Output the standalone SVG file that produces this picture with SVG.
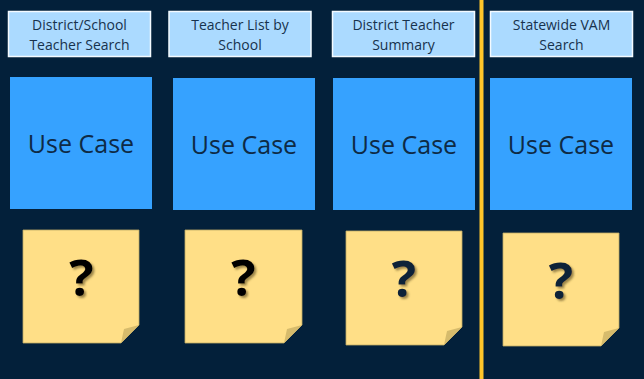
<svg xmlns="http://www.w3.org/2000/svg" width="644" height="379" viewBox="0 0 644 379">
<defs>
<style>
.hdr rect{fill:#ABDAFF;stroke:#F4FAFF;stroke-width:1.5}
.hdr text{font-family:"Open Sans","Liberation Sans",sans-serif;font-size:14px;fill:#17324D;text-anchor:middle}
.uc rect{fill:#36A2FF}
.uc text{font-family:"Open Sans","Liberation Sans",sans-serif;font-size:25px;fill:#0E2A45;text-anchor:middle}
.note .paper{fill:#FFDF87;stroke:#BFA964;stroke-width:0.8}
.note .fold{fill:#D6BB6C}
.note text{font-family:"Open Sans","Liberation Sans",sans-serif;font-weight:bold;font-size:51px;text-anchor:middle;filter:url(#sh)}
</style>
<filter id="sh" x="-50%" y="-50%" width="200%" height="200%">
<feGaussianBlur in="SourceAlpha" stdDeviation="1.2"/>
<feOffset dx="2" dy="2" result="b"/>
<feFlood flood-color="#5a4a20" flood-opacity="0.6"/>
<feComposite in2="b" operator="in"/>
<feMerge><feMergeNode/><feMergeNode in="SourceGraphic"/></feMerge>
</filter>
</defs>
<rect width="644" height="379" fill="#03203A"/>
<rect id="divider" x="479.5" y="0" width="4" height="379" fill="#FFC62A"/>
<g id="connectors"/>
<g id="h1" class="hdr"><rect x="8.5" y="11.5" width="142" height="45"/><text x="79.5" y="30">District/School</text><text x="79.5" y="50">Teacher Search</text></g>
<g id="h2" class="hdr"><rect x="169" y="11.5" width="142" height="45"/><text x="240" y="30">Teacher List by</text><text x="240" y="50">School</text></g>
<g id="h3" class="hdr"><rect x="332.5" y="11.5" width="142" height="45"/><text x="403.5" y="30">District Teacher</text><text x="403.5" y="50">Summary</text></g>
<g id="h4" class="hdr"><rect x="490.5" y="11.5" width="142" height="45"/><text x="561.5" y="30">Statewide VAM</text><text x="561.5" y="50">Search</text></g>
<g id="u1" class="uc"><rect x="10" y="77" width="142" height="132"/><text x="81" y="153">Use Case</text></g>
<g id="u2" class="uc"><rect x="173" y="78" width="142" height="132"/><text x="244" y="154">Use Case</text></g>
<g id="u3" class="uc"><rect x="333" y="78" width="142" height="132"/><text x="404" y="154">Use Case</text></g>
<g id="u4" class="uc"><rect x="490" y="78" width="142" height="132"/><text x="561" y="154">Use Case</text></g>
<g id="n1" class="note"><path class="paper" d="M23,230H139V325L121,343H23Z"/><path class="fold" d="M139,325L121,343L124,329Z"/><text x="81.5" y="296" fill="#050505">?</text></g>
<g id="n2" class="note"><path class="paper" d="M185,230H302V325L284,343H185Z"/><path class="fold" d="M302,325L284,343L287,329Z"/><text x="243.5" y="296" fill="#050505">?</text></g>
<g id="n3" class="note"><path class="paper" d="M346,231H462V327L444,345H346Z"/><path class="fold" d="M462,327L444,345L447,331Z"/><text x="404" y="297" fill="#0E2238">?</text></g>
<g id="n4" class="note"><path class="paper" d="M503,233H619V328L601,346H503Z"/><path class="fold" d="M619,328L601,346L604,332Z"/><text x="561" y="299" fill="#0E2238">?</text></g>
</svg>
